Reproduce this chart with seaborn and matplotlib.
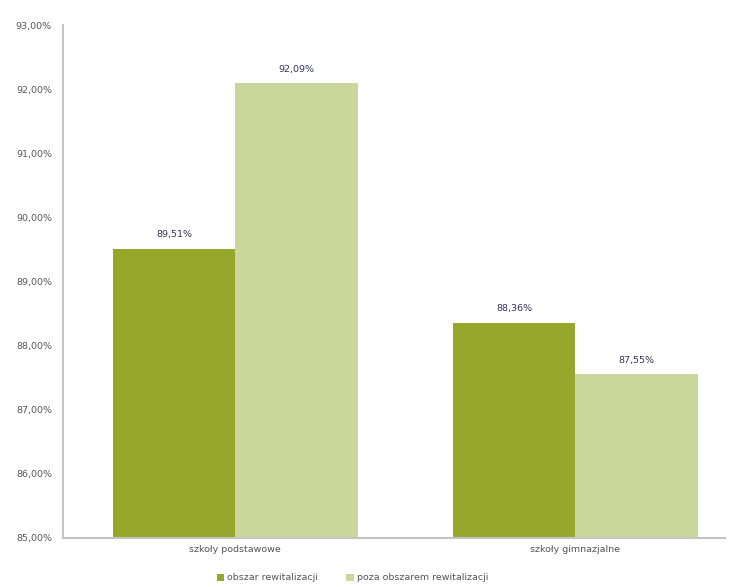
import matplotlib
matplotlib.use("Agg")
import matplotlib.pyplot as plt
import seaborn as sns
import pandas as pd

categories = ["szkoły podstawowe", "szkoły gimnazjalne"]
series = ["obszar rewitalizacji", "poza obszarem rewitalizacji"]
vals_obszar = [89.51, 88.36]
vals_poza = [92.09, 87.55]
yticks = [85, 86, 87, 88, 89, 90, 91, 92, 93]

df = pd.DataFrame({
    "kat": categories * 2,
    "seria": [series[0]] * 2 + [series[1]] * 2,
    "val": vals_obszar + vals_poza,
})

sns.set_theme(style="white")
plt.rcParams['font.family'] = ['DejaVu Sans']

fig = plt.figure(figsize=(7.34, 5.87), dpi=100)
ax = fig.add_axes([63/734, 1 - 538/587, (725-63)/734, (538-25)/587])

colors = ["#97a72c", "#cad69a"]
sns.barplot(data=df, x="kat", y="val", hue="seria", hue_order=series,
            palette=colors, width=0.72, ax=ax, saturation=1, legend=False,
            linewidth=0, edgecolor="none")
ax.set_ylim(85, 93)
ax.set_xlim(-0.506, 1.44)
ax.set_yticks(yticks)
ax.set_yticklabels([f"{t:.2f}".replace(".", ",") + "%" for t in yticks],
                   fontsize=6.8, color="#555555")
ax.tick_params(axis="x", labelsize=6.8, colors="#555555", length=0, pad=5)
ax.tick_params(axis="y", length=0, pad=8)
ax.set_xlabel("")
ax.set_ylabel("")
for s in ["top", "right"]:
    ax.spines[s].set_visible(False)
for s in ["left", "bottom"]:
    ax.spines[s].set_color("#c4c4c4")
    ax.spines[s].set_linewidth(1.5)

for cont in ax.containers:
    labels = [f"{v:.2f}".replace(".", ",") + "%" for v in cont.datavalues]
    ax.bar_label(cont, labels=labels, fontsize=6.8, color="#333355", padding=7)

from matplotlib.patches import Patch
handles = [Patch(facecolor=c, edgecolor="none") for c in colors]
fig.legend(handles, series, loc="center", bbox_to_anchor=(0.48, 1 - 578/587),
           ncol=2, frameon=False, fontsize=6.8, handlelength=0.8, handleheight=0.8,
           columnspacing=3, handletextpad=0.3, labelcolor="#555555")

fig.savefig("out.png", dpi=100, facecolor="white")
